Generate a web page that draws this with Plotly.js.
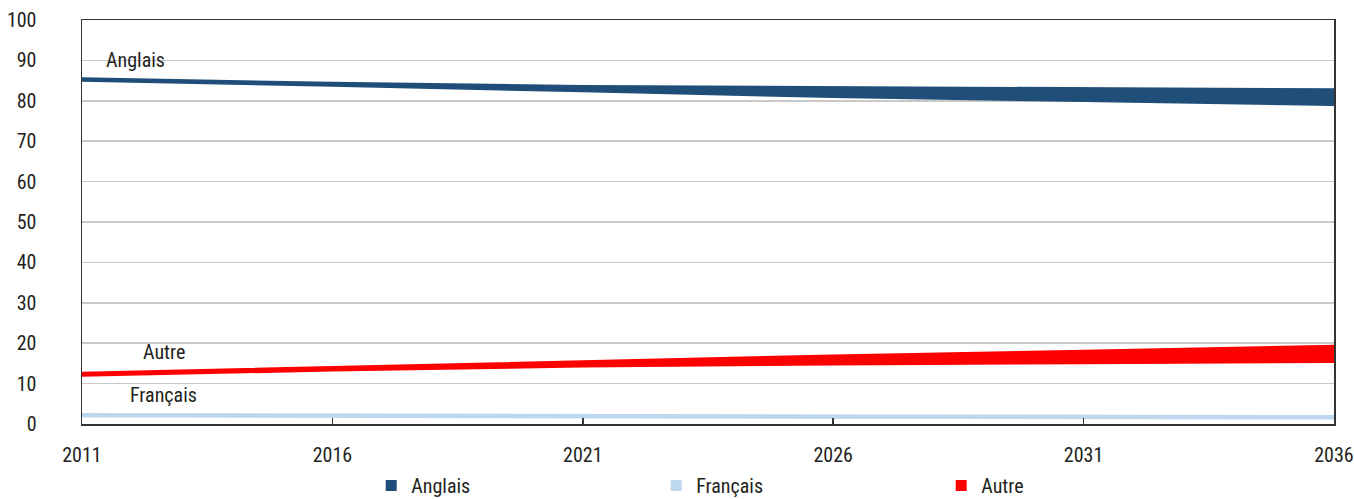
<!DOCTYPE html>
<html>
<head>
<meta charset="utf-8">
<script src="https://cdn.plot.ly/plotly-3.0.1.min.js"></script>
<style>
  html, body { margin: 0; padding: 0; background: #fff; }
  #chart { width: 1354px; height: 499px; }
</style>
</head>
<body>
<div id="chart"></div>
<script>
// Projected share (%) by language, low and high scenario bounds
const years = [2011, 2016, 2021, 2026, 2031, 2036];

const anglaisLow  = [85.0, 83.8, 82.4, 81.0, 80.0, 79.0];
const anglaisHigh = [85.5, 84.4, 83.6, 83.3, 83.1, 82.8];

const francaisLow  = [1.9, 1.8, 1.7, 1.6, 1.5, 1.4];
const francaisHigh = [2.4, 2.3, 2.2, 2.1, 2.0, 1.9];

const autreLow  = [12.0, 13.3, 14.3, 14.8, 15.1, 15.4];
const autreHigh = [12.6, 14.0, 15.5, 16.9, 18.1, 19.3];

const seriesNames = ['Anglais', 'Français', 'Autre'];
const seriesColors = ['#1F4E79', '#BDD7EE', '#FF0000'];
const yTicks = [0, 10, 20, 30, 40, 50, 60, 70, 80, 90, 100];
const xTicks = [2011, 2016, 2021, 2026, 2031, 2036];

const FONT = '"Liberation Sans Narrow", "Arial Narrow", "Roboto Condensed", "Liberation Sans", Arial, sans-serif';
const FS = 20;

function band(low, high, color) {
  return [
    { x: years, y: low, type: 'scatter', mode: 'lines',
      line: { color: color, width: 2.5 }, showlegend: false, hoverinfo: 'skip' },
    { x: years, y: high, type: 'scatter', mode: 'lines', fill: 'tonexty',
      fillcolor: color, line: { color: color, width: 2.5 }, showlegend: false, hoverinfo: 'skip' }
  ];
}

const lows = [anglaisLow, francaisLow, autreLow];
const highs = [anglaisHigh, francaisHigh, autreHigh];

let traces = [];
seriesNames.forEach((name, i) => {
  traces = traces.concat(band(lows[i], highs[i], seriesColors[i]));
});
// Legend entries
seriesNames.forEach((name, i) => {
  traces.push({
    x: [null], y: [null], type: 'scatter', mode: 'markers', name: name,
    marker: { symbol: 'square', size: 11, color: seriesColors[i] }
  });
});

// Inline series labels
const labelPos = [
  { text: 'Anglais', x: 2012.06, y: 90.1 },
  { text: 'Français', x: 2012.62, y: 7.2 },
  { text: 'Autre', x: 2012.64, y: 17.8 }
];

const layout = {
  width: 1354, height: 499,
  margin: { l: 82, r: 20, t: 20, b: 75, autoexpand: false },
  paper_bgcolor: '#fff', plot_bgcolor: '#fff',
  font: { family: FONT, size: FS, color: '#231F20' },
  showlegend: true,
  legend: {
    orientation: 'h', x: 0.231, xanchor: 'left', y: -0.104, yanchor: 'top',
    font: { family: FONT, size: FS, color: '#231F20' },
    itemwidth: 30, entrywidth: 240, traceorder: 'normal'
  },
  xaxis: {
    range: [2011, 2036], tickvals: xTicks, ticktext: xTicks.map(String),
    showgrid: false, zeroline: false,
    showline: true, linecolor: '#333', linewidth: 1.5, mirror: true,
    ticks: 'inside', ticklen: 6, tickcolor: '#333', tickwidth: 1.5,
    ticklabelstandoff: 12
  },
  yaxis: {
    range: [0, 100], tickvals: yTicks, ticktext: yTicks.map(String),
    showgrid: true, gridcolor: '#C8C8C8', gridwidth: 1.5, zeroline: false,
    showline: true, linecolor: '#333', linewidth: 1.5, mirror: true,
    ticks: '', ticklabelstandoff: 40
  },
  annotations: labelPos.map(p => ({
    text: p.text, x: p.x, y: p.y, xref: 'x', yref: 'y',
    showarrow: false, font: { family: FONT, size: FS, color: '#231F20' },
    bgcolor: 'rgba(255,255,255,0)'
  }))
};

Plotly.newPlot('chart', traces, layout, { displayModeBar: false, staticPlot: true });
</script>
</body>
</html>
